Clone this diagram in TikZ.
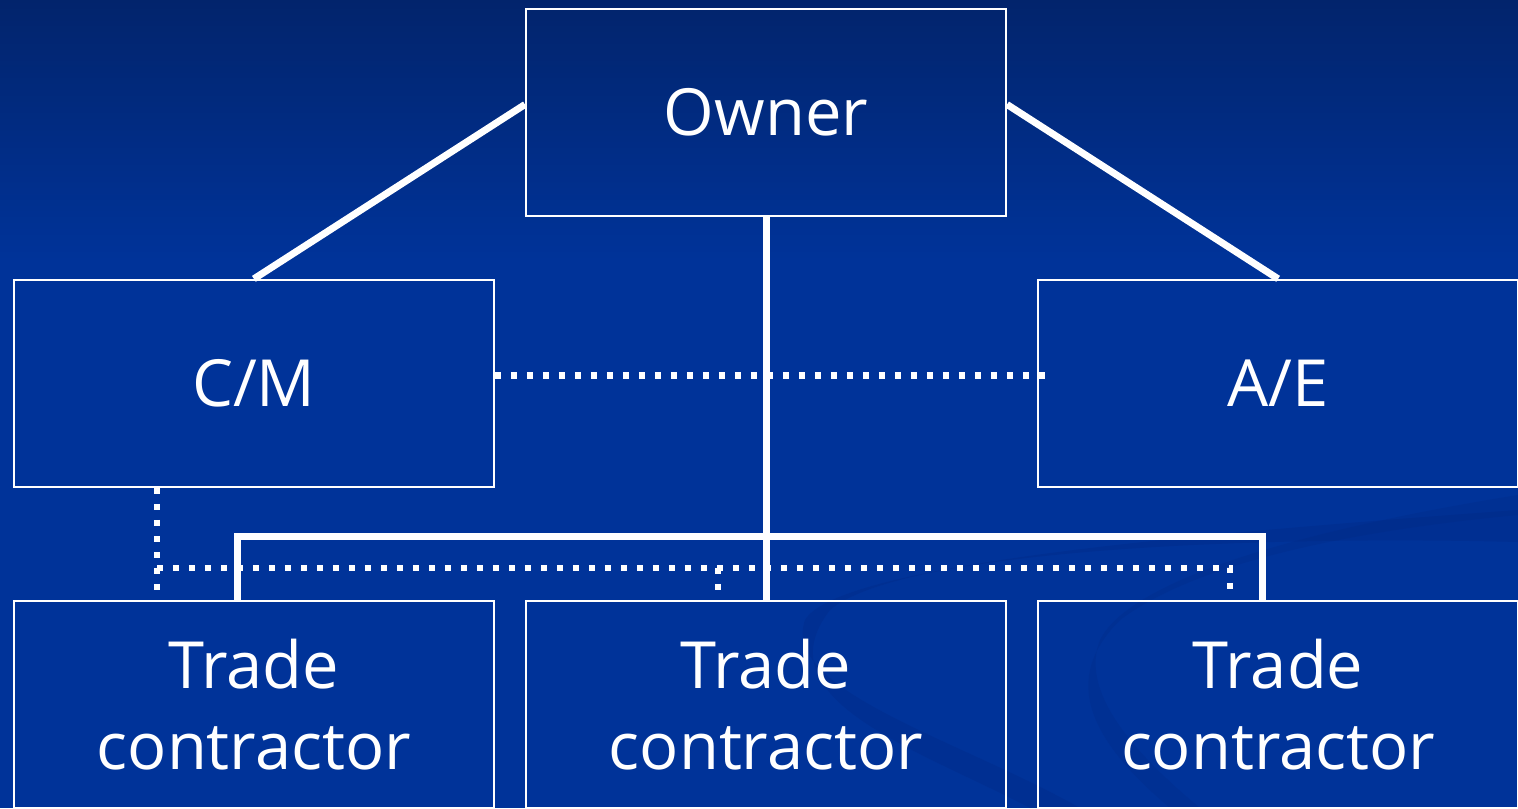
\documentclass[tikz,border=0pt]{standalone}
\usepackage{fontspec}
\setmainfont{Open Sans}
\usetikzlibrary{positioning}

\definecolor{bgtop}{RGB}{2,36,108}
\definecolor{bgblue}{RGB}{0,51,153}
\definecolor{swoosh}{RGB}{0,40,130}

\tikzset{
  box/.style={draw=white, line width=0.6pt, minimum width=4.8cm, minimum height=2.07cm,
    inner sep=0pt, text=white, align=center, font=\fontsize{18.5}{23}\selectfont},
  link/.style={draw=white, line width=0.07cm},
  dotlink/.style={draw=white, line width=0.065cm, dash pattern=on 0.06cm off 0.1cm}
}

\begin{document}
\begin{tikzpicture}[node distance=0.30cm]
    % background
    \useasboundingbox (0,0) rectangle (15.18,-8.08);
    \fill[bgblue] (0,0) rectangle (15.18,-8.08);
    \shade[top color=bgtop, bottom color=bgblue] (0,0) rectangle (15.18,-2.6);
    \fill[swoosh, opacity=0.3] (15.18,-5.10) .. controls (12.5,-5.3) and (8.4,-5.6) .. (8.05,-6.2)
        .. controls (7.8,-6.9) and (9.6,-7.4) .. (10.8,-8.08) -- (10.3,-8.08)
        .. controls (9.2,-7.5) and (7.6,-7.0) .. (8.3,-6.1)
        .. controls (9.0,-5.5) and (12.5,-5.35) .. (15.18,-5.42) -- cycle;
    \fill[swoosh, opacity=0.25] (15.18,-4.95) .. controls (13.0,-5.3) and (11.3,-5.8) .. (11.0,-6.4)
        .. controls (10.8,-6.9) and (11.3,-7.5) .. (12.0,-8.08) -- (11.7,-8.08)
        .. controls (10.9,-7.4) and (10.6,-6.8) .. (11.2,-6.2)
        .. controls (12.0,-5.6) and (13.6,-5.3) .. (15.18,-5.15) -- cycle;

    % boxes
    \node[box] (trade2) at (7.66,-7.045) {Trade\\contractor};
    \node[box] (trade1) [left=of trade2] {Trade\\contractor};
    \node[box] (trade3) [right=of trade2] {Trade\\contractor};
    \node[box] (cm) [above=1.12cm of trade1] {C/M};
    \node[box] (ae) [above=1.12cm of trade3] {A/E};
    \node[box] (owner) at (7.66,-1.125) {Owner};

    % contract lines
    \draw[link] ([yshift=0.08cm]owner.west) -- (cm.north);
    \draw[link] ([yshift=0.08cm]owner.east) -- (ae.north);
    \draw[link] (owner.south) -- (trade2.north);
    \draw[link] ([xshift=-0.16cm]trade1.north) -- ++(0,0.63) -| ([xshift=-0.16cm]trade3.north);

    % communication lines
    \draw[dotlink] ([yshift=0.08cm]cm.east) -- ([xshift=0.08cm,yshift=0.08cm]ae.west);
    \draw[dotlink] ([xshift=-0.97cm]cm.south) -- ([xshift=-0.97cm,yshift=0.08cm]trade1.north);
    \draw[dotlink] ([xshift=-0.97cm,yshift=-0.8cm]cm.south) -| ([xshift=-0.48cm,yshift=0.08cm]trade3.north);
    \draw[dotlink] ([xshift=-0.48cm,yshift=0.32cm]trade2.north) -- ([xshift=-0.48cm,yshift=0.08cm]trade2.north);
\end{tikzpicture}
\end{document}
